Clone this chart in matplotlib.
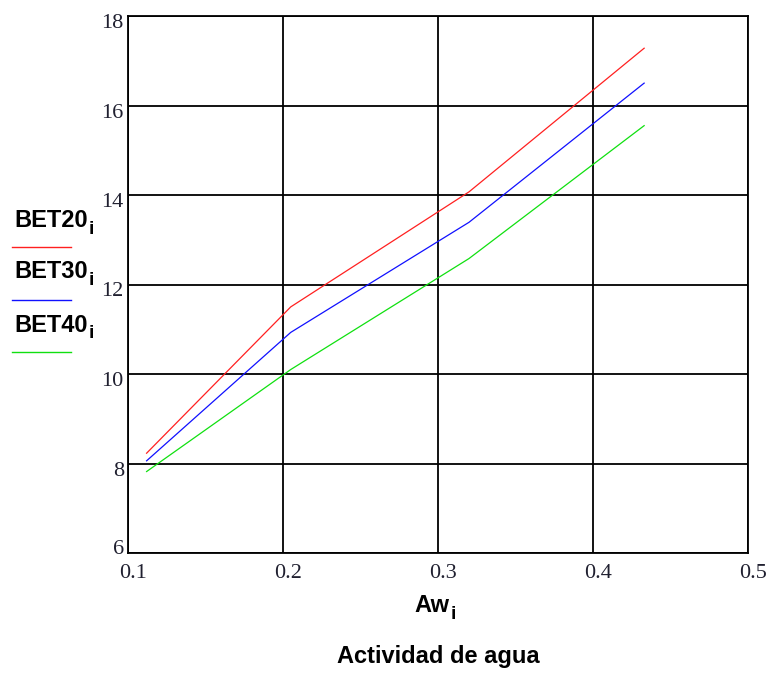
import matplotlib.pyplot as plt
from matplotlib.lines import Line2D
from matplotlib.transforms import ScaledTranslation

# data
aw = [0.112, 0.205, 0.32, 0.433]
bet20 = [8.23, 11.5, 14.07, 17.28]
bet30 = [8.06, 10.93, 13.39, 16.5]
bet40 = [7.82, 10.1, 12.58, 15.55]

x_ticks = [0.1, 0.2, 0.3, 0.4, 0.5]
y_ticks = [6, 8, 10, 12, 14, 16, 18]
series_names = ['BET20', 'BET30', 'BET40']
series_colors = ['#ff2020', '#1010ff', '#10e010']

W, H = 771, 673
fig = plt.figure(figsize=(W / 100, H / 100), dpi=100)
ax = fig.add_axes([128 / W, 1 - 553 / H, (748 - 128) / W, (553 - 16) / H])

for vals, col in zip([bet20, bet30, bet40], series_colors):
    ax.plot(aw, vals, color=col, lw=0.9, zorder=3)

ax.set_xlim(0.1, 0.5)
ax.set_ylim(6, 18)
ax.set_xticks(x_ticks)
ax.set_yticks(y_ticks)
ax.set_xticklabels([f'{v:g}' for v in x_ticks])
ax.set_yticklabels([str(v) for v in y_ticks])
ax.grid(True, color='black', lw=1.3)
for sp in ax.spines.values():
    sp.set_linewidth(1.3)
ax.tick_params(length=0, labelsize=16, labelcolor='#202030', pad=3)
ax.tick_params(axis='x', pad=8)
for lab in ax.get_xticklabels() + ax.get_yticklabels():
    lab.set_fontfamily('Liberation Serif')

# small offsets like the original tick text placement
for lab in ax.get_xticklabels():
    lab.set_transform(lab.get_transform() + ScaledTranslation(0.05, 0, fig.dpi_scale_trans))
for lab, v in zip(ax.get_yticklabels(), y_ticks):
    dy = 0.06 if v == 6 else -0.05
    lab.set_transform(lab.get_transform() + ScaledTranslation(0, dy, fig.dpi_scale_trans))


def add_sub(t, sub):
    # subscript placed just after the main text, dropping below its baseline
    ax.annotate(sub, xy=(1, 0), xycoords=t, xytext=(1, -4),
                textcoords='offset points', fontsize=14, fontweight='bold',
                family='Liberation Sans', ha='left', va='bottom',
                annotation_clip=False)


# legend on the left
text_y = [221, 272, 325]
line_y = [247, 300, 352]
for name, col, ty, ly in zip(series_names, series_colors, text_y, line_y):
    t = fig.text(14 / W, 1 - ty / H, name, fontsize=17, fontweight='bold',
                 family='Liberation Sans', ha='left', va='center')
    add_sub(t, 'i')
    fig.add_artist(Line2D([12 / W, 71 / W], [1 - ly / H, 1 - ly / H],
                          color=col, lw=1.0, transform=fig.transFigure))

# x axis labels
t = fig.text(432 / W, 1 - 606 / H, 'Aw', fontsize=17, fontweight='bold',
             family='Liberation Sans', ha='center', va='center')
add_sub(t, 'i')
fig.text(438 / W, 1 - 657 / H, 'Actividad de agua', fontsize=17,
         fontweight='bold', family='Liberation Sans', ha='center', va='center')

fig.savefig('out.png', dpi=100)
